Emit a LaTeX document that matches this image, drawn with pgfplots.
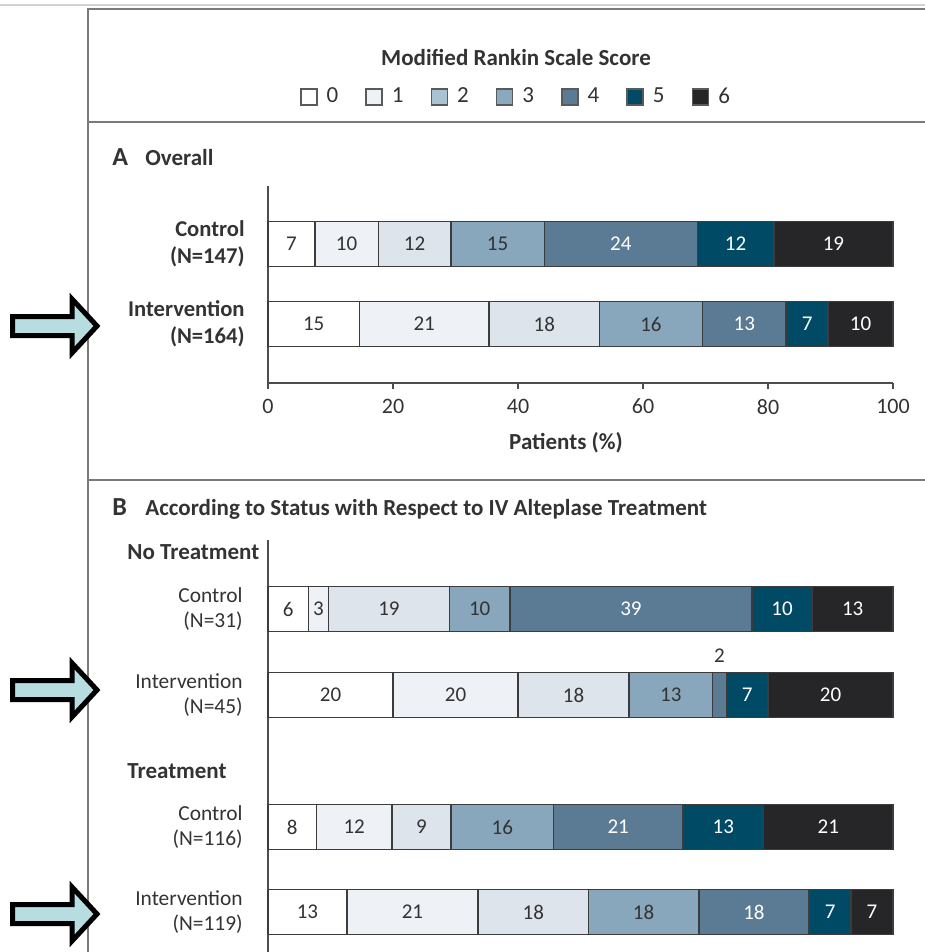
\documentclass[border=0pt]{standalone}
\usepackage{fontspec}
\setmainfont{Carlito}
\usepackage{pgfplots}
\usepackage{pgfplotstable}
\pgfplotsset{compat=1.18}

\definecolor{textgray}{HTML}{333333}
\definecolor{axisgray}{HTML}{4D4D4D}
\definecolor{bardraw}{HTML}{3C3C3C}
\definecolor{framegray}{HTML}{7A7A7A}
\definecolor{lightframe}{HTML}{D2D2D2}
\definecolor{c0}{HTML}{FFFFFF}
\definecolor{c1}{HTML}{EEF1F6}
\definecolor{c2}{HTML}{DDE4EB}
\definecolor{c3}{HTML}{89A7BC}
\definecolor{c4}{HTML}{5A7B93}
\definecolor{c5}{HTML}{004A66}
\definecolor{c6}{HTML}{262628}
\definecolor{lg2}{HTML}{A9C3D3}
\definecolor{lg3}{HTML}{8AA8BE}
\definecolor{legdraw}{HTML}{5A5A5A}
\definecolor{arrowfill}{HTML}{B8DDE0}

% Panel A: percentages of patients per modified Rankin score (y = row position)
\pgfplotstableread{
y    m0    m1    m2    m3    m4    m5    m6    l0 l1 l2 l3 l4 l5 l6
-244 7.48  10.20 11.56 14.97 24.49 12.24 19.06 7  10 12 15 24 12 19
-324 14.63 20.73 17.68 16.46 13.41 6.71  10.38 15 21 18 16 13 7  10
}\dataA

% Panel B
\pgfplotstableread{
y    m0    m1    m2    m3    m4    m5    m6    l0 l1 l2 l3 l4 l5 l6 ly4
-609 6.45  3.23  19.35 9.68  38.71 9.68  12.90 6  3  19 10 39 10 13 -609
-695 20.00 20.00 17.78 13.33 2.22  6.67  20.00 20 20 18 13 2  7  20 -656
-827 7.76  12.07 9.48  16.38 20.69 12.93 20.69 8  12 9  16 21 13 21 -827
-912 12.61 21.01 17.65 17.65 17.65 6.72  6.71  13 21 18 18 18 7  7  -912
}\dataB

\pgfplotsset{
  segbar/.style={fill=#1, draw=bardraw, line width=0.8pt},
  lab/.style={draw=none, mark=none, nodes near coords, point meta=explicit symbolic,
    nodes near coords align=center,
    every node near coord/.append style={font=\fontsize{10.5}{12}\selectfont, text=#1, inner sep=0pt}},
}

\tikzset{
  rowA/.style={anchor=east, align=right, inner sep=0pt, text=textgray, font=\bfseries\fontsize{11.3}{13.5}\selectfont},
  rowB/.style={anchor=east, align=right, inner sep=0pt, text=textgray, font=\fontsize{10.7}{12.8}\selectfont},
  head/.style={anchor=base west, inner sep=0pt, text=textgray, font=\bfseries\fontsize{11.5}{14}\selectfont},
  arr/.style={line width=2.5pt, draw=black, fill=arrowfill, line join=miter},
}

\newcommand{\arrowat}[1]{%
  \draw[arr] (12.5,#1-9.5) -- (72,#1-9.5) -- (72,#1-27) -- (97,#1) -- (72,#1+27) -- (72,#1+9.5) -- (12.5,#1+9.5) -- cycle;}

\begin{document}
\begin{tikzpicture}[x=0.5pt,y=-0.5pt]
\path[use as bounding box] (0,0) rectangle (925,952);
\coordinate (pA) at (268,383);
\coordinate (pB) at (268,952);

% frame
\draw[line width=1pt, draw=lightframe] (0,5) -- (925,5);
\draw[line width=1.2pt, draw=framegray] (88,952) -- (88,9) -- (925,9);
\draw[line width=1.2pt, draw=framegray] (88,122) -- (925,122);
\draw[line width=1.2pt, draw=framegray] (88,480) -- (925,480);

% legend title
\node[anchor=center, inner sep=0pt, text=textgray, font=\bfseries\fontsize{11.5}{14}\selectfont] at (516,58) {Modified Rankin Scale Score};

% ---------- Panel A ----------
\begin{axis}[
  at={(pA)}, anchor=south west,
  x=3.125pt, y=0.5pt,
  xmin=0, xmax=100, ymin=-383, ymax=-186,
  enlargelimits=false, clip=false,
  xbar stacked, bar width=45,
  axis x line*=bottom, axis y line*=left,
  ytick=\empty, xtick={0,20,40,60,80,100},
  tick align=outside, major tick length=3pt,
  axis line style={line width=0.8pt, draw=axisgray},
  every tick/.style={line width=0.8pt, draw=axisgray},
  /pgf/number format/assume math mode=true,
  xticklabel style={font=\fontsize{11}{13}\selectfont, text=textgray, yshift=-1.5pt},
  xlabel={Patients (\%)},
  x label style={at={(axis description cs:0.4768,-0.3046)}, anchor=center, inner sep=0pt,
    font=\bfseries\fontsize{11.5}{14}\selectfont, text=textgray},
  legend columns=7,
  legend style={at={(axis description cs:0.3984,1.4518)}, anchor=center, draw=none, fill=none,
    font=\fontsize{11.5}{14}\selectfont, text=textgray,
    /tikz/every odd column/.append style={column sep=2.5pt},
    /tikz/every even column/.append style={column sep=11.5pt}},
]
\addplot[segbar=c0, forget plot] table[x=m0, y=y] {\dataA};
\addplot[segbar=c1, forget plot] table[x=m1, y=y] {\dataA};
\addplot[segbar=c2, forget plot] table[x=m2, y=y] {\dataA};
\addplot[segbar=c3, forget plot] table[x=m3, y=y] {\dataA};
\addplot[segbar=c4, forget plot] table[x=m4, y=y] {\dataA};
\addplot[segbar=c5, forget plot] table[x=m5, y=y] {\dataA};
\addplot[segbar=c6, forget plot] table[x=m6, y=y] {\dataA};
\addlegendimage{legend image code/.code={\draw[line width=0.8pt,draw=legdraw,fill=c0] (0pt,-4pt) rectangle (8pt,4pt);}}
\addlegendentry{0}
\addlegendimage{legend image code/.code={\draw[line width=0.8pt,draw=legdraw,fill=c1] (0pt,-4pt) rectangle (8pt,4pt);}}
\addlegendentry{1}
\addlegendimage{legend image code/.code={\draw[line width=0.8pt,draw=legdraw,fill=lg2] (0pt,-4pt) rectangle (8pt,4pt);}}
\addlegendentry{2}
\addlegendimage{legend image code/.code={\draw[line width=0.8pt,draw=legdraw,fill=lg3] (0pt,-4pt) rectangle (8pt,4pt);}}
\addlegendentry{3}
\addlegendimage{legend image code/.code={\draw[line width=0.8pt,draw=legdraw,fill=c4] (0pt,-4pt) rectangle (8pt,4pt);}}
\addlegendentry{4}
\addlegendimage{legend image code/.code={\draw[line width=0.8pt,draw=legdraw,fill=c5] (0pt,-4pt) rectangle (8pt,4pt);}}
\addlegendentry{5}
\addlegendimage{legend image code/.code={\draw[line width=0.8pt,draw=legdraw,fill=c6] (0pt,-4pt) rectangle (8pt,4pt);}}
\addlegendentry{6}
\end{axis}

\begin{axis}[
  at={(pA)}, anchor=south west,
  x=3.125pt, y=0.5pt,
  xmin=0, xmax=100, ymin=-383, ymax=-186,
  enlargelimits=false, clip=false, hide axis,
]
\addplot[lab=textgray] table[x expr=0.5*\thisrow{m0}, y=y, meta=l0] {\dataA};
\addplot[lab=textgray] table[x expr=\thisrow{m0}+0.5*\thisrow{m1}, y=y, meta=l1] {\dataA};
\addplot[lab=textgray] table[x expr=\thisrow{m0}+\thisrow{m1}+0.5*\thisrow{m2}, y=y, meta=l2] {\dataA};
\addplot[lab=textgray] table[x expr=\thisrow{m0}+\thisrow{m1}+\thisrow{m2}+0.5*\thisrow{m3}, y=y, meta=l3] {\dataA};
\addplot[lab=white] table[x expr=\thisrow{m0}+\thisrow{m1}+\thisrow{m2}+\thisrow{m3}+0.5*\thisrow{m4}, y=y, meta=l4] {\dataA};
\addplot[lab=white] table[x expr=\thisrow{m0}+\thisrow{m1}+\thisrow{m2}+\thisrow{m3}+\thisrow{m4}+0.5*\thisrow{m5}, y=y, meta=l5] {\dataA};
\addplot[lab=white] table[x expr=100-0.5*\thisrow{m6}, y=y, meta=l6] {\dataA};
\end{axis}

% ---------- Panel B ----------
\begin{axis}[
  at={(pB)}, anchor=south west,
  x=3.125pt, y=0.5pt,
  xmin=0, xmax=100, ymin=-952, ymax=-540,
  enlargelimits=false, clip=false,
  xbar stacked, bar width=45,
  axis x line=none, axis y line*=left,
  ytick=\empty, xtick=\empty,
  axis line style={line width=0.8pt, draw=axisgray},
]
\addplot[segbar=c0] table[x=m0, y=y] {\dataB};
\addplot[segbar=c1] table[x=m1, y=y] {\dataB};
\addplot[segbar=c2] table[x=m2, y=y] {\dataB};
\addplot[segbar=c3] table[x=m3, y=y] {\dataB};
\addplot[segbar=c4] table[x=m4, y=y] {\dataB};
\addplot[segbar=c5] table[x=m5, y=y] {\dataB};
\addplot[segbar=c6] table[x=m6, y=y] {\dataB};
\end{axis}

\begin{axis}[
  at={(pB)}, anchor=south west,
  x=3.125pt, y=0.5pt,
  xmin=0, xmax=100, ymin=-952, ymax=-540,
  enlargelimits=false, clip=false, hide axis,
]
\addplot[lab=textgray] table[x expr=0.5*\thisrow{m0}, y=y, meta=l0] {\dataB};
\addplot[lab=textgray] table[x expr=\thisrow{m0}+0.5*\thisrow{m1}, y=y, meta=l1] {\dataB};
\addplot[lab=textgray] table[x expr=\thisrow{m0}+\thisrow{m1}+0.5*\thisrow{m2}, y=y, meta=l2] {\dataB};
\addplot[lab=textgray] table[x expr=\thisrow{m0}+\thisrow{m1}+\thisrow{m2}+0.5*\thisrow{m3}, y=y, meta=l3] {\dataB};
% mRS 4 labels: inside the bar except the narrow 2% segment, which is labelled above it
\addplot[lab=white, skip coords between index={1}{2}] table[x expr=\thisrow{m0}+\thisrow{m1}+\thisrow{m2}+\thisrow{m3}+0.5*\thisrow{m4}, y=y, meta=l4] {\dataB};
\addplot[lab=textgray, skip coords between index={0}{1}, skip coords between index={2}{4}] table[x expr=\thisrow{m0}+\thisrow{m1}+\thisrow{m2}+\thisrow{m3}+0.5*\thisrow{m4}, y=ly4, meta=l4] {\dataB};
\addplot[lab=white] table[x expr=\thisrow{m0}+\thisrow{m1}+\thisrow{m2}+\thisrow{m3}+\thisrow{m4}+0.5*\thisrow{m5}, y=y, meta=l5] {\dataB};
\addplot[lab=white] table[x expr=100-0.5*\thisrow{m6}, y=y, meta=l6] {\dataB};
\end{axis}

% panel headings
\node[head, font=\bfseries\fontsize{13}{15}\selectfont] at (112,166) {A};
\node[head] at (145,166) {Overall};
\node[head, font=\bfseries\fontsize{13}{15}\selectfont] at (112,515) {B};
\node[head] at (145,515) {According to Status with Respect to IV Alteplase Treatment};
\node[head] at (127,559) {No Treatment};
\node[head] at (127,778) {Treatment};

% row labels
\node[rowA] at (245,244) {Control\\(N=147)};
\node[rowA] at (245,324) {Intervention\\(N=164)};
\node[rowB] at (243,609) {Control\\(N=31)};
\node[rowB] at (243,695) {Intervention\\(N=45)};
\node[rowB] at (243,827) {Control\\(N=116)};
\node[rowB] at (243,912) {Intervention\\(N=119)};

% arrows
\arrowat{326}
\arrowat{690}
\arrowat{914}
\end{tikzpicture}
\end{document}
